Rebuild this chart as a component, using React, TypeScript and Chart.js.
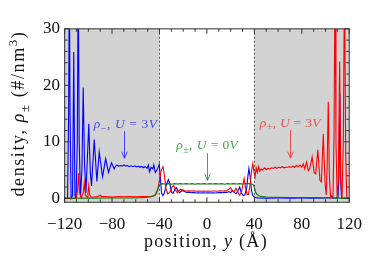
import React, { useEffect, useRef } from 'react';
import { Chart, registerables } from 'chart.js';

Chart.register(...registerables);

// ---------- data ----------
const xTickValues = [-120, -80, -40, 0, 40, 80, 120];
const yTickValues = [0, 10, 20, 30];
const xMinorTicks = [-110, -100, -90, -70, -60, -50, -30, -20, -10, 10, 20, 30, 50, 60, 70, 90, 100, 110];
const yMinorTicks = [2, 4, 6, 8, 12, 14, 16, 18, 22, 24, 26, 28];
const wallRegions = [[-120, -40], [40, 120]];

// rho_-, U = 3V (blue)
const blueX = [-120, -117.5, -116.6, -116.0, -115.4, -114.5, -113.3, -112.3, -111.3, -110.3, -109.3, -108.5, -107.7, -106.6, -105.4, -104.3, -103.2, -102.0, -99.6, -98.3, -97.3, -95.0, -92.8, -90.8, -88.0, -85.4, -83.0, -80.4, -78.2, -77.3, -76, -74.5, -73, -71.5, -70, -68.5, -67, -65.5, -64, -62.5, -61, -59.5, -58, -56.5, -55, -53.5, -52, -50.5, -49.4, -48.4, -47, -45.6, -44.8, -43.5, -42.5, -41.5, -40.2, -39.2, -38.3, -37.2, -36, -34.5, -32.5, -31, -29.8, -28.5, -27, -25.8, -24.5, -23, -21.5, -20.3, -19, -17, -15, -13, -11, -9, -7, -5, -3, -1, 1, 3, 5, 7, 9, 11, 13, 15, 17, 18.5, 20, 21.5, 23, 24.5, 26, 27.6, 29, 30.5, 32, 33.5, 34.6, 35.4, 36.4, 37.5, 38.5, 39.5, 41, 43, 46, 50, 60, 70, 80, 90, 100, 104, 105.3, 106.3, 110.5, 111.3, 112, 112.7, 113.5, 120];
const blueY = [0, 0, 15, 40, 15, 0, 0.5, 25.9, 0.5, 0, 10, 40, 10, 0.3, 5, 19.6, 6, 1.0, 13.2, 4.5, 2.2, 10.4, 3.0, 8.2, 3.8, 7.0, 4.6, 6.3, 5.2, 5.6, 5.9, 5.7, 5.8, 5.7, 5.9, 5.7, 5.8, 5.6, 5.75, 5.6, 5.75, 5.55, 5.7, 5.5, 5.65, 5.45, 5.6, 5.3, 5.9, 4.7, 5.5, 5.2, 5.9, 4.6, 4.9, 5.3, 6.0, 3.5, 1.0, 0.5, 0.9, 2.2, 3.3, 2.4, 1.0, 0.9, 1.6, 1.9, 1.3, 1.0, 1.3, 1.5, 1.2, 1.05, 1.1, 1.0, 1.05, 0.95, 1.0, 0.95, 1.0, 0.95, 1.0, 0.95, 1.0, 0.95, 1.0, 1.05, 1.0, 1.1, 1.05, 1.2, 1.0, 1.4, 1.0, 0.8, 1.2, 2.0, 1.0, 0.5, 0.6, 1.8, 4.0, 5.3, 3.8, 1.5, 0.6, 0.3, 0.15, 0.08, 0.05, 0.04, 0.05, 0.04, 0.05, 0.04, 0.05, 0.06, 0.45, 0.05, 0.05, 4, 18.5, 4, 0, 0];

// rho_+, U = 3V (red)
const redX = [-120, -110, -109, -108.2, -107.4, -106, -104.3, -103.4, -102.5, -101, -100.3, -99.6, -98.8, -97.5, -95, -92.5, -90, -88.5, -85, -80, -75, -70, -65, -60, -55, -50, -47, -45, -43.5, -42.5, -41.5, -40.5, -39.5, -38.5, -37, -35.8, -34.5, -33, -31.5, -29.5, -28, -26.5, -25, -23.5, -22, -20.5, -19, -17, -15, -13, -11, -9, -7, -5, -3, -1, 1, 3, 5, 7, 9, 11, 13, 15, 17, 18.5, 20, 21.5, 23, 24.5, 26, 27.5, 29, 30.5, 31.4, 32.5, 33.8, 35, 36.5, 37.7, 38.7, 39.7, 40.6, 41.5, 42.5, 43.5, 44.5, 45.5, 47, 48.5, 50, 51.5, 53, 54.5, 56, 57.5, 59, 60.5, 62, 63.5, 65, 66.5, 68, 69.5, 71, 72.5, 74, 75.5, 77, 78.5, 80, 81.3, 82.5, 84, 85.5, 86.8, 88.7, 90.5, 91.7, 93.5, 95.3, 96.5, 98.1, 99.6, 100.6, 101.4, 102.3, 103.2, 104.3, 106.3, 107.2, 108, 108.8, 109.8, 110.8, 111.9, 112.9, 113.9, 115, 116, 117, 117.9, 120];
const redY = [0, 0, 1.5, 4.5, 1.0, 0.1, 1.0, 2.7, 0.6, 0.2, 1.0, 2.3, 0.6, 0.2, 0.25, 0.3, 0.55, 0.3, 0.3, 0.25, 0.3, 0.28, 0.3, 0.28, 0.3, 0.32, 0.35, 0.45, 0.6, 0.9, 1.5, 2.6, 3.9, 5.0, 5.6, 4.0, 1.6, 0.8, 1.0, 2.0, 2.3, 1.5, 1.0, 1.4, 1.6, 1.3, 1.35, 1.3, 1.35, 1.3, 1.35, 1.25, 1.3, 1.25, 1.3, 1.25, 1.3, 1.25, 1.3, 1.3, 1.25, 1.35, 1.3, 1.35, 1.4, 1.6, 1.9, 1.3, 1.2, 1.8, 1.1, 0.6, 1.0, 2.6, 3.5, 2.0, 0.7, 0.7, 2.5, 5.0, 6.2, 4.6, 3.8, 5.4, 4.6, 5.6, 4.8, 5.2, 5.0, 5.4, 5.1, 5.3, 5.2, 5.4, 5.3, 5.5, 5.3, 5.5, 5.4, 5.6, 5.4, 5.5, 5.5, 5.6, 5.5, 5.7, 5.5, 5.8, 5.6, 5.9, 5.5, 6.1, 5.2, 6.4, 4.9, 5.3, 7.3, 4.5, 4.3, 8.6, 3.2, 2.9, 11.4, 2.7, 0.6, 6, 17.1, 4, 0.1, 0.05, 12, 40, 10, 0, 3, 24.2, 3, 0, 10, 40, 8, 0, 0];

// rho_±, U = 0V (green)
const greenX = [-120, -118, -100, -80, -65, -55, -50, -47, -45, -43.5, -42.5, -41.5, -40.5, -39.5, -38, -35, -32.5, -30, -27.5, -25, -22.5, -20, -17.5, -15, -12.5, -10, -7.5, -5, -2.5, 0, 2.5, 5, 7.5, 10, 12.5, 15, 17.5, 20, 22.5, 25, 27.5, 30, 32.5, 35, 37.5, 38.5, 39.5, 40.3, 41, 42, 43.5, 45, 47.5, 50, 55, 60, 70, 80, 90, 100, 104, 106, 110, 120];
const greenY = [0, 0.02, 0.03, 0.05, 0.07, 0.12, 0.18, 0.28, 0.42, 0.7, 1.1, 1.6, 2.1, 2.45, 2.6, 2.55, 2.6, 2.5, 2.6, 2.55, 2.6, 2.55, 2.6, 2.55, 2.6, 2.5, 2.6, 2.55, 2.6, 2.55, 2.6, 2.55, 2.6, 2.55, 2.6, 2.5, 2.6, 2.55, 2.6, 2.55, 2.6, 2.55, 2.6, 2.6, 2.55, 2.5, 2.3, 1.7, 1.1, 0.75, 0.5, 0.38, 0.3, 0.25, 0.2, 0.18, 0.15, 0.14, 0.12, 0.1, 0.12, 0.05, 0.03, 0];

// annotations: [xText, yBaseline, xArrow, yArrowTop, yArrowBottom]
const blueNote = [-68.5, 12.36, -70, 11.9, 7.1];
const greenNote = [0.3, 8.66, 0, 8.0, 3.2];
const redNote = [70.3, 12.68, 70, 12.1, 7.1];

// ---------- helpers ----------
type Seg = { t: string; it?: boolean; sub?: boolean; sup?: boolean };
const SERIF = "'Liberation Serif', 'DejaVu Serif', serif";

function segFont(s: Seg, size: number) {
  const sz = s.sub || s.sup ? Math.round(size * 0.72) : size;
  return `${s.it ? 'italic ' : ''}${sz}px ${SERIF}`;
}
function richWidth(ctx: CanvasRenderingContext2D, segs: Seg[], size: number) {
  let w = 0;
  for (const s of segs) {
    ctx.font = segFont(s, size);
    w += ctx.measureText(s.t).width;
  }
  return w;
}
function drawRich(ctx: CanvasRenderingContext2D, segs: Seg[], x: number, y: number, size: number, color: string, target?: number) {
  const c: any = ctx;
  c.letterSpacing = '0px';
  const w0 = richWidth(ctx, segs, size);
  let ls = 0;
  if (target) {
    const n = segs.reduce((k, s) => k + s.t.length, 0);
    ls = Math.max(0, (target - w0) / n);
  }
  c.letterSpacing = ls + 'px';
  const w = richWidth(ctx, segs, size);
  let cx = x - w / 2;
  ctx.fillStyle = color;
  ctx.textAlign = 'left';
  ctx.textBaseline = 'alphabetic';
  for (const s of segs) {
    ctx.font = segFont(s, size);
    const dy = s.sub ? size * 0.25 : s.sup ? -size * 0.38 : 0;
    ctx.fillText(s.t, cx, y + dy);
    cx += ctx.measureText(s.t).width;
  }
  c.letterSpacing = '0px';
}
function drawArrow(ctx: CanvasRenderingContext2D, x: number, y1: number, y2: number, color: string) {
  ctx.save();
  ctx.strokeStyle = color;
  ctx.lineWidth = 1;
  ctx.beginPath();
  ctx.moveTo(x, y1);
  ctx.lineTo(x, y2);
  ctx.moveTo(x - 2.8, y2 - 6.5);
  ctx.lineTo(x, y2);
  ctx.lineTo(x + 2.8, y2 - 6.5);
  ctx.stroke();
  ctx.restore();
}

const bgPlugin = {
  id: 'walls',
  beforeDatasetsDraw(chart: any) {
    const { ctx, chartArea: a, scales } = chart;
    const xs = scales.x;
    ctx.save();
    ctx.fillStyle = '#d3d3d3';
    for (const [l, r] of wallRegions) {
      const x1 = xs.getPixelForValue(l);
      const x2 = xs.getPixelForValue(r);
      ctx.fillRect(x1, a.top, x2 - x1, a.bottom - a.top);
    }
    ctx.strokeStyle = '#555';
    ctx.lineWidth = 1;
    ctx.setLineDash([2, 2]);
    for (const v of [-40, 40]) {
      const px = Math.round(xs.getPixelForValue(v)) + 0.5;
      ctx.beginPath();
      ctx.moveTo(px, a.top);
      ctx.lineTo(px, a.bottom);
      ctx.stroke();
    }
    ctx.restore();
  },
};

const fgPlugin = {
  id: 'frame',
  afterDraw(chart: any) {
    const { ctx, chartArea: a, scales } = chart;
    const xs = scales.x;
    const ys = scales.y;
    ctx.save();
    ctx.strokeStyle = '#505050';
    ctx.lineWidth = 1.2;
    ctx.strokeRect(a.left, a.top, a.right - a.left, a.bottom - a.top);
    ctx.lineWidth = 1;
    ctx.strokeStyle = '#333';
    ctx.beginPath();
    const xt = [...xTickValues.map((v) => [v, 5]), ...xMinorTicks.map((v) => [v, 3])];
    for (const [v, len] of xt) {
      const px = xs.getPixelForValue(v);
      ctx.moveTo(px, a.bottom);
      ctx.lineTo(px, a.bottom - len);
      ctx.moveTo(px, a.top);
      ctx.lineTo(px, a.top + len);
    }
    const yt = [...yTickValues.map((v) => [v, 5]), ...yMinorTicks.map((v) => [v, 3])];
    for (const [v, len] of yt) {
      const py = ys.getPixelForValue(v);
      ctx.moveTo(a.left, py);
      ctx.lineTo(a.left + len, py);
      ctx.moveTo(a.right, py);
      ctx.lineTo(a.right - len, py);
    }
    ctx.stroke();

    // axis titles
    drawRich(
      ctx,
      [{ t: 'position, ' }, { t: 'y', it: true }, { t: ' (Å)' }],
      (a.left + a.right) / 2 - 1,
      247,
      18,
      '#111',
      124
    );
    ctx.save();
    ctx.translate(24, (a.top + a.bottom) / 2 - 2);
    ctx.rotate(-Math.PI / 2);
    drawRich(
      ctx,
      [{ t: 'density, ' }, { t: 'ρ', it: true }, { t: '±', sub: true }, { t: ' (#/nm' }, { t: '3', sup: true }, { t: ')' }],
      0,
      0,
      18,
      '#111',
      166
    );
    ctx.restore();

    // annotations
    const notes: [number[], Seg[], string, number][] = [
      [blueNote, [{ t: 'ρ', it: true }, { t: '−', sub: true }, { t: ', ' }, { t: 'U', it: true }, { t: ' = 3' }, { t: 'V', it: true }], 'rgba(30,30,255,0.8)', 64],
      [greenNote, [{ t: 'ρ', it: true }, { t: '±', sub: true }, { t: ', ' }, { t: 'U', it: true }, { t: ' = 0' }, { t: 'V', it: true }], 'rgba(30,140,30,0.8)', 62],
      [redNote, [{ t: 'ρ', it: true }, { t: '+', sub: true }, { t: ', ' }, { t: 'U', it: true }, { t: ' = 3' }, { t: 'V', it: true }], 'rgba(255,40,40,0.8)', 61],
    ];
    for (const [n, segs, col, tw] of notes) {
      drawRich(ctx, segs, xs.getPixelForValue(n[0]), ys.getPixelForValue(n[1]), 13.5, col, tw);
      drawArrow(ctx, Math.round(xs.getPixelForValue(n[2])) + 0.5, ys.getPixelForValue(n[3]), ys.getPixelForValue(n[4]), col);
    }
    ctx.restore();
  },
};

const fmt = (v: number) => (v < 0 ? '\u2212' + Math.abs(v) : String(v));

export default function App() {
  const ref = useRef<HTMLCanvasElement>(null);
  useEffect(() => {
    if (!ref.current) return;
    const mk = (xs: number[], ys: number[]) => xs.map((x, i) => ({ x, y: ys[i] }));
    const tickFont = { family: SERIF, size: 17 };
    const chart = new Chart(ref.current, {
      type: 'line',
      data: {
        datasets: [
          { label: 'green', data: mk(greenX, greenY), borderColor: '#0c7a0c', borderWidth: 1.1, pointRadius: 0, tension: 0 },
          { label: 'red', data: mk(redX, redY), borderColor: '#ff0000', borderWidth: 1.1, pointRadius: 0, tension: 0 },
          { label: 'blue', data: mk(blueX, blueY), borderColor: '#0000ff', borderWidth: 1.1, pointRadius: 0, tension: 0 },
        ],
      },
      options: {
        responsive: false,
        animation: false,
        devicePixelRatio: 1,
        layout: { padding: { left: 0, right: 18.5, top: 28.8, bottom: 0 } },
        plugins: { legend: { display: false }, tooltip: { enabled: false } },
        scales: {
          x: {
            type: 'linear',
            min: -120,
            max: 120,
            afterFit: (s: any) => {
              s.height = 59.7;
            },
            afterBuildTicks: (s: any) => {
              s.ticks = xTickValues.map((v) => ({ value: v }));
            },
            grid: { display: false, drawTicks: false },
            border: { display: false },
            ticks: { font: tickFont, color: '#111', padding: 12, maxRotation: 0, autoSkip: false, callback: (v: any) => fmt(Number(v)) },
          },
          y: {
            type: 'linear',
            min: -0.7,
            max: 30,
            afterFit: (s: any) => {
              s.width = 64.6;
            },
            afterBuildTicks: (s: any) => {
              s.ticks = yTickValues.map((v) => ({ value: v }));
            },
            grid: { display: false, drawTicks: false },
            border: { display: false },
            ticks: { font: tickFont, color: '#111', padding: 4.6, autoSkip: false, callback: (v: any) => fmt(Number(v)) },
          },
        },
      },
      plugins: [bgPlugin, fgPlugin],
    } as any);
    return () => chart.destroy();
  }, []);
  return (
    <div style={{ position: 'fixed', left: 0, top: 0, width: 374, height: 262, background: '#fff' }}>
      <canvas ref={ref} width={374} height={262} style={{ width: 374, height: 262, display: 'block' }} />
    </div>
  );
}
